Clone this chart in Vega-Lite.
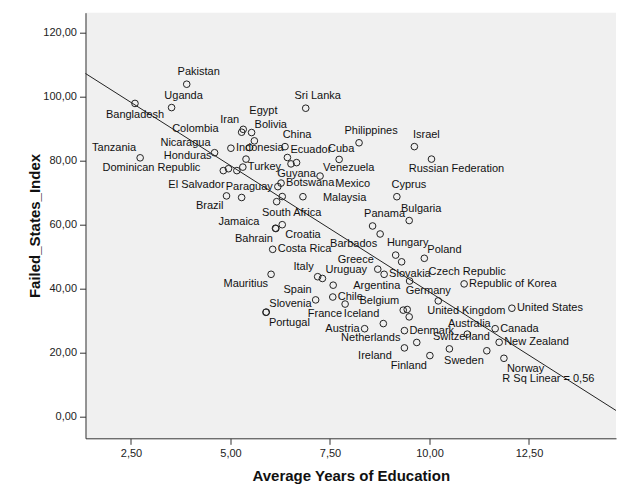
{
  "$schema": "https://vega.github.io/schema/vega-lite/v6.json",
  "width": 530.5,
  "height": 425.6,
  "autosize": {"type": "none"},
  "padding": {"left": 85.5, "top": 12.7, "right": 13, "bottom": 65.7},
  "background": "white",
  "config": {"view": {"stroke": null, "fill": "#F0F0F0"}},
  "datasets": {
    "fitline": [
      {"edu": 1.357, "fsi": 107.25},
      {"edu": 14.686, "fsi": 1.94}
    ]
  },
  "data": {"values": [
    {"country": "Pakistan", "edu": 3.90, "fsi": 103.9},
    {"country": "Uganda", "edu": 3.52, "fsi": 96.6},
    {"country": "Bangladesh", "edu": 2.60, "fsi": 97.9},
    {"country": "Tanzania", "edu": 2.73, "fsi": 80.9},
    {"country": "Sri Lanka", "edu": 6.89, "fsi": 96.4},
    {"country": "Iran", "edu": 5.32, "fsi": 89.8},
    {"country": "Colombia", "edu": 5.28, "fsi": 88.9},
    {"country": "Bolivia", "edu": 5.53, "fsi": 88.8},
    {"country": "Egypt", "edu": 5.60, "fsi": 86.2},
    {"country": "Indonesia", "edu": 5.01, "fsi": 83.9},
    {"country": "", "edu": 5.48, "fsi": 84.1},
    {"country": "Nicaragua", "edu": 4.60, "fsi": 82.5},
    {"country": "", "edu": 5.39, "fsi": 80.5},
    {"country": "Dominican Republic", "edu": 4.82, "fsi": 76.9},
    {"country": "Honduras", "edu": 4.95, "fsi": 77.5},
    {"country": "", "edu": 5.16, "fsi": 76.9},
    {"country": "Turkey", "edu": 5.31, "fsi": 78.0},
    {"country": "China", "edu": 6.37, "fsi": 84.4},
    {"country": "Ecuador", "edu": 6.43, "fsi": 81.0},
    {"country": "", "edu": 6.52, "fsi": 79.0},
    {"country": "Guyana", "edu": 6.66, "fsi": 79.4},
    {"country": "Cuba", "edu": 7.73, "fsi": 80.4},
    {"country": "Venezuela", "edu": 7.25, "fsi": 75.2},
    {"country": "Botswana", "edu": 6.27, "fsi": 73.0},
    {"country": "Paraguay", "edu": 6.19, "fsi": 71.9},
    {"country": "Mexico", "edu": 6.30, "fsi": 68.8},
    {"country": "South Africa", "edu": 6.16, "fsi": 67.2},
    {"country": "Malaysia", "edu": 6.82, "fsi": 68.75},
    {"country": "Brazil", "edu": 4.90, "fsi": 69.0},
    {"country": "El Salvador", "edu": 5.28, "fsi": 68.5},
    {"country": "Philippines", "edu": 8.23, "fsi": 85.6},
    {"country": "Israel", "edu": 9.62, "fsi": 84.4},
    {"country": "Russian Federation", "edu": 10.05, "fsi": 80.5},
    {"country": "Cyprus", "edu": 9.18, "fsi": 68.75},
    {"country": "Bulgaria", "edu": 9.49, "fsi": 61.3},
    {"country": "Panama", "edu": 8.57, "fsi": 59.6},
    {"country": "Barbados", "edu": 8.76, "fsi": 57.1},
    {"country": "Croatia", "edu": 6.30, "fsi": 60.0},
    {"country": "Bahrain", "edu": 6.14, "fsi": 58.8},
    {"country": "Jamaica", "edu": 6.13, "fsi": 58.9},
    {"country": "Costa Rica", "edu": 6.06, "fsi": 52.3},
    {"country": "Hungary", "edu": 9.15, "fsi": 50.5},
    {"country": "", "edu": 9.30, "fsi": 48.4},
    {"country": "Poland", "edu": 9.87, "fsi": 49.5},
    {"country": "Mauritius", "edu": 6.02, "fsi": 44.5},
    {"country": "Italy", "edu": 7.19, "fsi": 43.75},
    {"country": "Uruguay", "edu": 7.31, "fsi": 43.2},
    {"country": "Greece", "edu": 8.70, "fsi": 46.1},
    {"country": "Slovakia", "edu": 8.86, "fsi": 44.5},
    {"country": "Argentina", "edu": 7.58, "fsi": 41.1},
    {"country": "Czech Republic", "edu": 9.50, "fsi": 42.4},
    {"country": "Republic of Korea", "edu": 10.87, "fsi": 41.5},
    {"country": "Spain", "edu": 7.14, "fsi": 36.5},
    {"country": "Chile", "edu": 7.57, "fsi": 37.4},
    {"country": "France", "edu": 7.88, "fsi": 35.2},
    {"country": "Germany", "edu": 10.22, "fsi": 36.2},
    {"country": "Portugal", "edu": 5.89, "fsi": 32.6},
    {"country": "Slovenia", "edu": 5.90, "fsi": 32.7},
    {"country": "Belgium", "edu": 9.34, "fsi": 33.3},
    {"country": "United Kingdom", "edu": 9.44, "fsi": 33.5},
    {"country": "", "edu": 9.49, "fsi": 31.2},
    {"country": "Iceland", "edu": 8.84, "fsi": 29.1},
    {"country": "Austria", "edu": 8.37, "fsi": 27.5},
    {"country": "Denmark", "edu": 9.37, "fsi": 26.9},
    {"country": "Ireland", "edu": 9.68, "fsi": 23.2},
    {"country": "Netherlands", "edu": 9.37, "fsi": 21.5},
    {"country": "Finland", "edu": 10.01, "fsi": 19.1},
    {"country": "Switzerland", "edu": 10.50, "fsi": 21.2},
    {"country": "Australia", "edu": 10.95, "fsi": 25.8},
    {"country": "Canada", "edu": 11.65, "fsi": 27.5},
    {"country": "Sweden", "edu": 11.44, "fsi": 20.6},
    {"country": "New Zealand", "edu": 11.75, "fsi": 23.25},
    {"country": "Norway", "edu": 11.87, "fsi": 18.25},
    {"country": "United States", "edu": 12.07, "fsi": 33.9}
  ]},
  "encoding": {
    "x": {"field": "edu", "type": "quantitative",
      "scale": {"domain": [1.357, 14.686], "nice": false, "zero": false},
      "axis": {"values": [2.5, 5, 7.5, 10, 12.5], "labelExpr": "replace(format(datum.value, '.2f'), '.', ',')",
        "title": "Average Years of Education", "grid": false, "tickSize": 6, "labelPadding": 3,
        "domainColor": "#333333", "tickColor": "#333333", "labelFont": "Liberation Sans", "labelFontSize": 11, "labelColor": "#222222",
        "titleFont": "Liberation Sans", "titleFontSize": 15, "titleFontWeight": "bold", "titleColor": "#111111",
        "titleX": 265.25, "titleY": 37, "titleBaseline": "middle", "titleAlign": "center"}},
    "y": {"field": "fsi", "type": "quantitative",
      "scale": {"domain": [-6.75, 126.25], "nice": false, "zero": false},
      "axis": {"values": [0, 20, 40, 60, 80, 100, 120], "labelExpr": "replace(format(datum.value, '.2f'), '.', ',')",
        "title": "Failed_States_Index", "grid": false, "tickSize": 6, "labelPadding": 3,
        "domainColor": "#333333", "tickColor": "#333333", "labelFont": "Liberation Sans", "labelFontSize": 11, "labelColor": "#222222",
        "titleFont": "Liberation Sans", "titleFontSize": 15, "titleFontWeight": "bold", "titleColor": "#111111",
        "titleX": -51.5, "titleY": 212.8, "titleAngle": 270, "titleBaseline": "middle", "titleAlign": "center"}}
  },
  "layer": [
    {"mark": {"type": "point", "shape": "circle", "filled": false, "size": 44, "stroke": "#222222", "strokeWidth": 1, "opacity": 1}},
    {"data": {"name": "fitline"},
     "mark": {"type": "line", "color": "#222222", "strokeWidth": 1}},
    {"transform": [{"filter": {"field": "country", "oneOf": ["Pakistan", "Uganda", "China", "Sri Lanka", "Philippines", "Israel", "Cyprus", "Bulgaria", "Panama", "Hungary", "Switzerland"]}}],
     "mark": {"type": "text", "align": "center", "baseline": "middle", "dx": 12, "dy": -12, "font": "Liberation Sans", "fontSize": 11, "color": "#111111"},
     "encoding": {"text": {"field": "country"}}},
    {"transform": [{"filter": {"field": "country", "oneOf": ["Cuba", "Australia"]}}],
     "mark": {"type": "text", "align": "center", "baseline": "middle", "dx": 2, "dy": -10.5, "font": "Liberation Sans", "fontSize": 11, "color": "#111111"},
     "encoding": {"text": {"field": "country"}}},
    {"transform": [{"filter": {"field": "country", "oneOf": ["Bangladesh", "Guyana"]}}],
     "mark": {"type": "text", "align": "center", "baseline": "middle", "dx": 0, "dy": 11.5, "font": "Liberation Sans", "fontSize": 11, "color": "#111111"},
     "encoding": {"text": {"field": "country"}}},
    {"transform": [{"filter": {"field": "country", "oneOf": ["South Africa"]}}],
     "mark": {"type": "text", "align": "center", "baseline": "middle", "dx": 15, "dy": 11, "font": "Liberation Sans", "fontSize": 11, "color": "#111111"},
     "encoding": {"text": {"field": "country"}}},
    {"transform": [{"filter": {"field": "country", "oneOf": ["Tanzania", "Iran", "Nicaragua", "Greece", "Italy", "Iceland", "Belgium", "Spain", "Netherlands"]}}],
     "mark": {"type": "text", "align": "right", "baseline": "middle", "dx": -4, "dy": -9.5, "font": "Liberation Sans", "fontSize": 11, "color": "#111111"},
     "encoding": {"text": {"field": "country"}}},
    {"transform": [{"filter": {"field": "country", "oneOf": ["Bolivia", "Ecuador", "Venezuela", "Poland", "Uruguay", "Slovenia"]}}],
     "mark": {"type": "text", "align": "left", "baseline": "middle", "dx": 3, "dy": -8, "font": "Liberation Sans", "fontSize": 11, "color": "#111111"},
     "encoding": {"text": {"field": "country"}}},
    {"transform": [{"filter": {"field": "country", "oneOf": ["Indonesia", "Turkey", "Botswana", "Costa Rica", "Slovakia", "Chile", "Republic of Korea", "United States", "Canada", "Denmark", "New Zealand"]}}],
     "mark": {"type": "text", "align": "left", "baseline": "middle", "dx": 5, "dy": 0, "font": "Liberation Sans", "fontSize": 11, "color": "#111111"},
     "encoding": {"text": {"field": "country"}}},
    {"transform": [{"filter": {"field": "country", "oneOf": ["Paraguay", "Austria"]}}],
     "mark": {"type": "text", "align": "right", "baseline": "middle", "dx": -5, "dy": 0, "font": "Liberation Sans", "fontSize": 11, "color": "#111111"},
     "encoding": {"text": {"field": "country"}}},
    {"transform": [{"filter": {"field": "country", "oneOf": ["Brazil", "Bahrain", "Barbados", "Mauritius", "France", "Finland", "Sweden"]}}],
     "mark": {"type": "text", "align": "right", "baseline": "middle", "dx": -3, "dy": 10, "font": "Liberation Sans", "fontSize": 11, "color": "#111111"},
     "encoding": {"text": {"field": "country"}}},
    {"transform": [{"filter": {"field": "country", "oneOf": ["Croatia", "Norway", "Portugal"]}}],
     "mark": {"type": "text", "align": "left", "baseline": "middle", "dx": 3, "dy": 10.5, "font": "Liberation Sans", "fontSize": 11, "color": "#111111"},
     "encoding": {"text": {"field": "country"}}},
    {"transform": [{"filter": {"field": "country", "oneOf": ["Argentina", "United Kingdom", "Malaysia"]}}],
     "mark": {"type": "text", "align": "left", "baseline": "middle", "dx": 20, "dy": 1, "font": "Liberation Sans", "fontSize": 11, "color": "#111111"},
     "encoding": {"text": {"field": "country"}}},
    {"transform": [{"filter": {"field": "country", "oneOf": ["Colombia", "Dominican Republic"]}}],
     "mark": {"type": "text", "align": "right", "baseline": "middle", "dx": -23, "dy": -3, "font": "Liberation Sans", "fontSize": 11, "color": "#111111"},
     "encoding": {"text": {"field": "country"}}},
    {"transform": [{"filter": {"field": "country", "oneOf": ["Honduras", "El Salvador"]}}],
     "mark": {"type": "text", "align": "right", "baseline": "middle", "dx": -17, "dy": -13, "font": "Liberation Sans", "fontSize": 11, "color": "#111111"},
     "encoding": {"text": {"field": "country"}}},
    {"transform": [{"filter": {"field": "country", "oneOf": ["Egypt"]}}],
     "mark": {"type": "text", "align": "center", "baseline": "middle", "dx": 9, "dy": -30, "font": "Liberation Sans", "fontSize": 11, "color": "#111111"},
     "encoding": {"text": {"field": "country"}}},
    {"transform": [{"filter": {"field": "country", "oneOf": ["Russian Federation"]}}],
     "mark": {"type": "text", "align": "center", "baseline": "middle", "dx": 25, "dy": 10, "font": "Liberation Sans", "fontSize": 11, "color": "#111111"},
     "encoding": {"text": {"field": "country"}}},
    {"transform": [{"filter": {"field": "country", "oneOf": ["Mexico"]}}],
     "mark": {"type": "text", "align": "left", "baseline": "middle", "dx": 53, "dy": -13, "font": "Liberation Sans", "fontSize": 11, "color": "#111111"},
     "encoding": {"text": {"field": "country"}}},
    {"transform": [{"filter": {"field": "country", "oneOf": ["Jamaica"]}}],
     "mark": {"type": "text", "align": "right", "baseline": "middle", "dx": -16, "dy": -6, "font": "Liberation Sans", "fontSize": 11, "color": "#111111"},
     "encoding": {"text": {"field": "country"}}},
    {"transform": [{"filter": {"field": "country", "oneOf": ["Ireland"]}}],
     "mark": {"type": "text", "align": "right", "baseline": "middle", "dx": -25, "dy": 14, "font": "Liberation Sans", "fontSize": 11, "color": "#111111"},
     "encoding": {"text": {"field": "country"}}},
    {"transform": [{"filter": {"field": "country", "oneOf": ["Germany"]}}],
     "mark": {"type": "text", "align": "center", "baseline": "middle", "dx": -10, "dy": -9.5, "font": "Liberation Sans", "fontSize": 11, "color": "#111111"},
     "encoding": {"text": {"field": "country"}}},
    {"transform": [{"filter": {"field": "country", "oneOf": ["Czech Republic"]}}],
     "mark": {"type": "text", "align": "left", "baseline": "middle", "dx": 19, "dy": -9, "font": "Liberation Sans", "fontSize": 11, "color": "#111111"},
     "encoding": {"text": {"field": "country"}}},
    {"data": {"values": [{"label": "R Sq Linear = 0,56", "edu": 11.83, "fsi": 11.8}]},
     "mark": {"type": "text", "align": "left", "baseline": "middle", "font": "Liberation Sans", "fontSize": 11, "color": "#111111"},
     "encoding": {"text": {"field": "label"}}}
  ]
}
